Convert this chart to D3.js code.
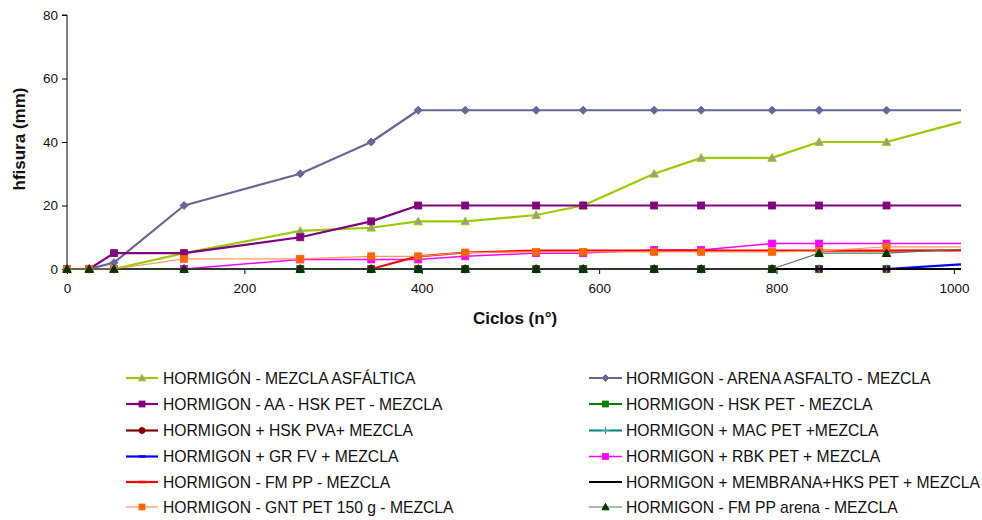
<!DOCTYPE html>
<html><head><meta charset="utf-8">
<script src="https://cdn.jsdelivr.net/npm/d3@7/dist/d3.min.js"></script>
<style>
body{margin:0;background:#fff;}
svg{display:block;font-family:"Liberation Sans",Arial,sans-serif;}
</style></head>
<body>
<svg id="chart" width="982" height="520"></svg>
<script>
// ---- data ----
const ciclos = [0,25,53,132,263,343,396,449,529,582,662,715,795,848,924,1020];
const seriesNames = [
  "HORMIGÓN - MEZCLA ASFÁLTICA",
  "HORMIGON - ARENA ASFALTO - MEZCLA",
  "HORMIGON - AA - HSK PET - MEZCLA",
  "HORMIGON - HSK PET - MEZCLA",
  "HORMIGON + HSK PVA+ MEZCLA",
  "HORMIGON + MAC PET +MEZCLA",
  "HORMIGON + GR FV + MEZCLA",
  "HORMIGON + RBK PET + MEZCLA",
  "HORMIGON - FM PP - MEZCLA",
  "HORMIGON + MEMBRANA+HKS PET + MEZCLA",
  "HORMIGON - GNT PET 150 g - MEZCLA",
  "HORMIGON - FM PP arena - MEZCLA"
];
const mezclaAsfaltica = [0,0,0,5,12,13,15,15,17,20,30,35,35,40,40,47.2];
const arenaAsfalto    = [0,0,2,20,30,40,50,50,50,50,50,50,50,50,50,50];
const aaHskPet        = [0,0,5,5,10,15,20,20,20,20,20,20,20,20,20,20];
const hskPet          = [0,0,0,0,0,0,0,0,0,0,0,0,0,0,0,0];
const hskPva          = [0,0,0,0,0,0,0,0,0,0,0,0,0,0,0,0];
const macPet          = [0,0,0,0,0,0,0,0,0,0,0,0,0,0,0,0];
const grFv            = [0,0,0,0,0,0,0,0,0,0,0,0,0,0,0,1.7];
const rbkPet          = [0,0,0,0,3,3,3,4,5,5,6,6,8,8,8,8];
const fmPp            = [0,0,0,0,0,0,4,5.2,5.8,5.8,5.8,5.8,5.8,5.8,5.8,5.9];
const membrana        = [0,0,0,0,0,0,0,0,0,0,0,0,0,0,0,0];
const gntPet          = [0,0,0,3.2,3.2,4,4,5.2,5.4,5.4,5.4,5.4,5.4,5.6,7,7];
const fmPpArena       = [0,0,0,0,0,0,0,0,0,0,0,0,0,5,5,6.4];
const yTicks = [0,20,40,60,80];
const xTicks = [0,200,400,600,800,1000];
const xTitle = "Ciclos (n°)";
const yTitle = "hfisura (mm)";

const values = [mezclaAsfaltica, arenaAsfalto, aaHskPet, hskPet, hskPva, macPet, grFv, rbkPet, fmPp, membrana, gntPet, fmPpArena];
const styles = [
  {line:"#99CC00", w:2.2, marker:"triangle", mfill:"#999999", mstroke:"#99CC00"},
  {line:"#666699", w:2.2, marker:"diamond", mfill:"#666699", mstroke:"#666699"},
  {line:"#800080", w:2.2, marker:"square", mfill:"#800080", mstroke:"#800080"},
  {line:"#008000", w:2.2, marker:"square", mfill:"#008000", mstroke:"#008000"},
  {line:"#800000", w:2.2, marker:"circle", mfill:"#800000", mstroke:"#800000"},
  {line:"#008080", w:2.2, marker:"plus", mfill:"none", mstroke:"#33AAAA"},
  {line:"#0000FF", w:2.2, marker:"dash", mfill:"none", mstroke:"#0000FF"},
  {line:"#FF00FF", w:1.5, marker:"square", mfill:"#FF00FF", mstroke:"#FF00FF"},
  {line:"#FF0000", w:2.2, marker:"dash", mfill:"none", mstroke:"#FF0000"},
  {line:"#000000", w:2.2, marker:"none"},
  {line:"#FF9955", w:1.2, marker:"square", mfill:"#FF6600", mstroke:"#FF6600"},
  {line:"#557755", w:1.2, marker:"triangle", mfill:"#003300", mstroke:"#003300"}
];

const svg = d3.select("#chart");
const x = d3.scaleLinear().domain([0,1008]).range([67,961]);
const y = d3.scaleLinear().domain([0,80]).range([269,15]);

svg.append("defs").append("clipPath").attr("id","clip")
  .append("rect").attr("x",50).attr("y",0).attr("width",961-50).attr("height",290);

// axes
const yAxis = svg.append("g").attr("transform","translate(67,0)")
  .call(d3.axisLeft(y).tickValues(yTicks).tickFormat(d3.format("d")).tickSize(5).tickPadding(4));
const xAxis = svg.append("g").attr("transform","translate(0,269)")
  .call(d3.axisBottom(x).tickValues(xTicks).tickFormat(d3.format("d")).tickSize(5).tickPadding(9));
[yAxis,xAxis].forEach(a=>{
  a.select(".domain").attr("stroke","#000");
  a.selectAll(".tick line").attr("stroke","#000");
  a.selectAll(".tick text").attr("fill","#111").style("font-size","13.5px").style("font-family","Liberation Sans, Arial, sans-serif");
});
xAxis.select(".domain").attr("d", `M${67},0H${961}`);
yAxis.select(".domain").attr("d", `M-5,${y(80)}H0V${y(0)}`);

svg.append("text").attr("x",515).attr("y",324).attr("text-anchor","middle")
  .style("font-weight","bold").style("font-size","17px").attr("fill","#111").text(xTitle);
svg.append("text").attr("transform","translate(25,139) rotate(-90)").attr("text-anchor","middle")
  .style("font-weight","bold").style("font-size","17px").attr("fill","#111").text(yTitle);

function drawMarker(g, type, cx, cy, st, s){
  s = s || 1;
  if(type==="square"){
    g.append("rect").attr("x",cx-3.5*s).attr("y",cy-3.5*s).attr("width",7*s).attr("height",7*s)
      .attr("fill",st.mfill).attr("stroke",st.mstroke).attr("stroke-width",0.8);
  } else if(type==="triangle"){
    const r=4.2*s;
    g.append("path").attr("d",`M${cx},${cy-r}L${cx+r},${cy+r*0.8}L${cx-r},${cy+r*0.8}Z`)
      .attr("fill",st.mfill).attr("stroke",st.mstroke).attr("stroke-width",1);
  } else if(type==="diamond"){
    const r=4*s;
    g.append("path").attr("d",`M${cx},${cy-r}L${cx+r},${cy}L${cx},${cy+r}L${cx-r},${cy}Z`)
      .attr("fill",st.mfill).attr("stroke",st.mstroke);
  } else if(type==="circle"){
    g.append("circle").attr("cx",cx).attr("cy",cy).attr("r",3.5*s).attr("fill",st.mfill).attr("stroke",st.mstroke);
  } else if(type==="plus"){
    const r=4.5*s;
    g.append("path").attr("d",`M${cx-r},${cy}H${cx+r}M${cx},${cy-r}V${cy+r}`)
      .attr("stroke",st.mstroke).attr("stroke-width",1.2).attr("fill","none");
  } else if(type==="dash"){
    g.append("path").attr("d",`M${cx-4*s},${cy}H${cx+4*s}`)
      .attr("stroke",st.mstroke).attr("stroke-width",2.5).attr("fill","none");
  }
}

const plot = svg.append("g").attr("clip-path","url(#clip)");
const line = d3.line().x(d=>x(d[0])).y(d=>y(d[1]));
values.forEach((vals,i)=>{
  const st = styles[i];
  const pts = ciclos.map((c,j)=>[c, vals[j]]);
  const g = plot.append("g");
  g.append("path").attr("d",line(pts)).attr("fill","none").attr("stroke",st.line)
    .attr("stroke-width",st.w).attr("stroke-linejoin","round");
  if(st.marker!=="none") pts.forEach(p=>drawMarker(g, st.marker, x(p[0]), y(p[1]), st));
});

// legend
const legRows = [378,404,430.5,456.5,482,507];
const legCols = [{x1:126,x2:158,tx:163},{x1:589,x2:622,tx:626}];
seriesNames.forEach((name,i)=>{
  const col = legCols[i%2], row = legRows[Math.floor(i/2)];
  const st = styles[i];
  const g = svg.append("g");
  g.append("line").attr("x1",col.x1).attr("x2",col.x2).attr("y1",row).attr("y2",row)
    .attr("stroke",st.line).attr("stroke-width",st.w);
  if(st.marker!=="none") drawMarker(g, st.marker, (col.x1+col.x2)/2, row, st, 0.85);
  g.append("text").attr("x",col.tx).attr("y",row).attr("dy","0.36em")
    .style("font-size","15.7px").attr("fill","#111").text(name);
});
</script>
</body></html>
